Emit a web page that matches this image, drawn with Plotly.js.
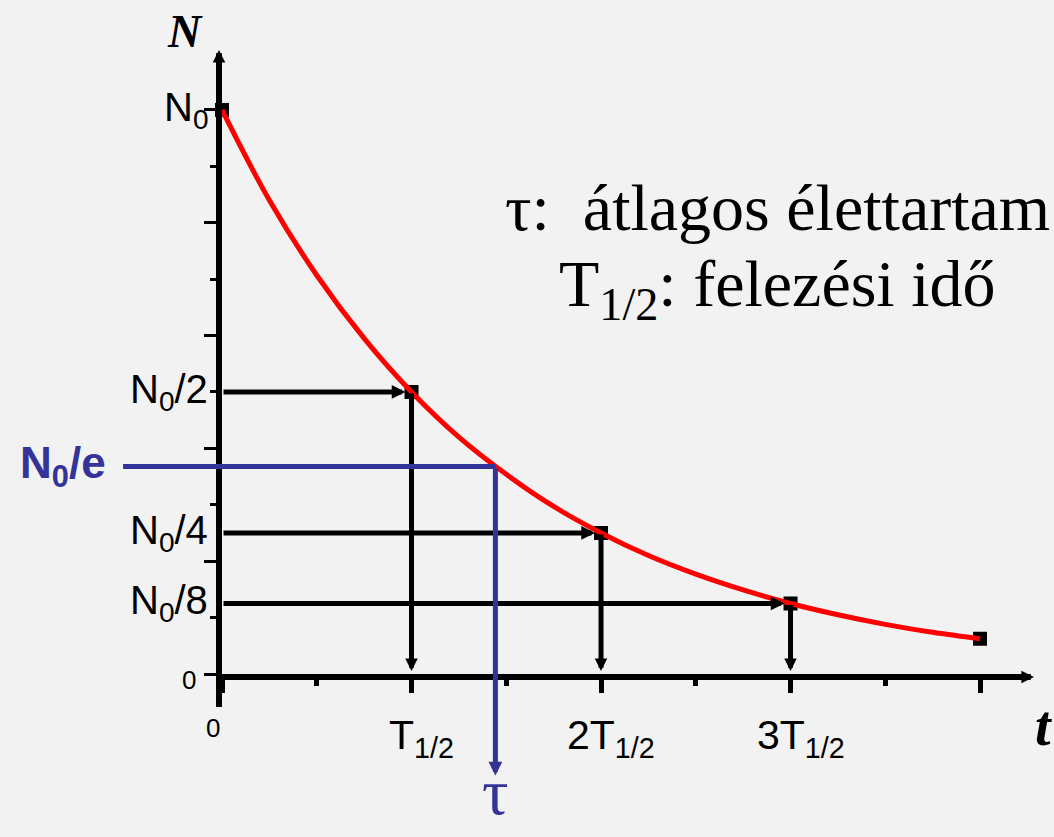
<!DOCTYPE html>
<html>
<head>
<meta charset="utf-8">
<script src="https://cdn.plot.ly/plotly-3.0.1.min.js"></script>
<style>
  html, body { margin: 0; padding: 0; background: #f2f2f2; }
  #chart { width: 1054px; height: 837px; }
</style>
</head>
<body>
<div id="chart"></div>
<script>
// Radioactive decay: time in units of the half-life T1/2, amount in units of N0
const decayT = [0, 0.25, 0.5, 0.75, 1, 1.25, 1.5, 1.75, 2, 2.25, 2.5, 2.75, 3, 3.25, 3.5, 3.75, 4];
const decayN = [1.0, 0.84, 0.707, 0.595, 0.5, 0.42, 0.354, 0.297, 0.25, 0.21, 0.177, 0.149, 0.125, 0.105, 0.088, 0.074, 0.0625];

// Points reached after whole half-lives
const halfLifeT = [0, 1, 2, 3, 4];
const halfLifeN = [1, 0.5, 0.25, 0.125, 0.0625];

// Guide arrows drawn from the N axis to the curve and down to the t axis
const guideT = [1, 2, 3];
const guideN = [0.5, 0.25, 0.125];

// Mean lifetime tau (in T1/2 units) and the amount left then, N0/e
const meanLifeT = 1.4427;
const meanLifeN = 0.3679;

// Axis labels
const yLabelVals = [1, 0.5, 0.25, 0.125];
const yLabelText = ['N<sub>0</sub>', 'N<sub>0</sub>/2', 'N<sub>0</sub>/4', 'N<sub>0</sub>/8'];
const xLabelVals = [1, 2, 3];
const xLabelText = ['T<sub>1/2</sub>', '2T<sub>1/2</sub>', '3T<sub>1/2</sub>'];

const BLACK = '#000000';
const RED = '#ff0000';
const BLUE = '#333399';
const SANS = 'Liberation Sans, Arial, sans-serif';
const SERIF = 'Liberation Serif, Times New Roman, serif';

const traces = [
  {
    x: halfLifeT, y: halfLifeN, type: 'scatter', mode: 'markers',
    marker: { symbol: 'square', size: 14, color: BLACK },
    cliponaxis: false, hoverinfo: 'skip'
  },
  {
    x: decayT, y: decayN, type: 'scatter', mode: 'lines',
    line: { color: RED, width: 5, shape: 'spline', smoothing: 1 },
    hoverinfo: 'skip'
  }
];

const annotations = [];

// horizontal and vertical guide arrows
guideT.forEach((t, i) => {
  annotations.push({
    x: t, y: guideN[i], xref: 'x', yref: 'y',
    ax: 0, ay: guideN[i], axref: 'x', ayref: 'y',
    text: '', showarrow: true, arrowhead: 2, arrowsize: 0.55, arrowwidth: 5,
    arrowcolor: BLACK, standoff: 6
  });
  annotations.push({
    x: t, y: 0, xref: 'x', yref: 'y',
    ax: t, ay: guideN[i], axref: 'x', ayref: 'y',
    text: '', showarrow: true, arrowhead: 2, arrowsize: 0.5, arrowwidth: 5,
    arrowcolor: BLACK, standoff: 3
  });
});

// N0/e level reaching the curve, then dropping to tau
annotations.push({
  x: meanLifeT, y: meanLifeN, xref: 'x', yref: 'y',
  ax: -0.53, ay: meanLifeN, axref: 'x', ayref: 'y',
  text: '', showarrow: true, arrowhead: 0, arrowwidth: 5, arrowcolor: BLUE
});
annotations.push({
  x: meanLifeT, y: -0.18, xref: 'x', yref: 'y',
  ax: meanLifeT, ay: meanLifeN, axref: 'x', ayref: 'y',
  text: '', showarrow: true, arrowhead: 2, arrowsize: 0.55, arrowwidth: 5, arrowcolor: BLUE
});

// axis arrowheads
annotations.push({
  x: 0, y: 1, xref: 'paper', yref: 'paper', ax: 0, ay: 24,
  xshift: -3, yshift: 12,
  text: '', showarrow: true, arrowhead: 2, arrowsize: 0.42, arrowwidth: 6, arrowcolor: BLACK
});
annotations.push({
  x: 1, y: 0, xref: 'paper', yref: 'paper', ax: -24, ay: 0,
  xshift: 10, yshift: -3,
  text: '', showarrow: true, arrowhead: 2, arrowsize: 0.42, arrowwidth: 6, arrowcolor: BLACK
});

// N-axis labels
yLabelVals.forEach((v, i) => {
  annotations.push({
    x: 0, y: v, xref: 'paper', yref: 'y', xanchor: 'right', yanchor: 'middle',
    xshift: -12, text: yLabelText[i], showarrow: false,
    font: { family: SANS, size: 40, color: BLACK }
  });
});
annotations.push({
  x: 0, y: 0, xref: 'paper', yref: 'y', xanchor: 'right', yanchor: 'middle',
  xshift: -24, yshift: -6, text: '0', showarrow: false,
  font: { family: SANS, size: 26, color: BLACK }
});
annotations.push({
  x: 0, y: meanLifeN, xref: 'paper', yref: 'y', xanchor: 'right', yanchor: 'middle',
  xshift: -114, text: '<b>N<sub>0</sub>/e</b>', showarrow: false,
  font: { family: SANS, size: 44, color: BLUE }
});

// t-axis labels
annotations.push({
  x: 0, y: 0, xref: 'x', yref: 'paper', xanchor: 'center', yanchor: 'middle',
  xshift: -9, yshift: -54, text: '0', showarrow: false,
  font: { family: SANS, size: 26, color: BLACK }
});
xLabelVals.forEach((v, i) => {
  annotations.push({
    x: v, y: 0, xref: 'x', yref: 'paper', xanchor: 'center', yanchor: 'middle',
    xshift: 10, yshift: -64, text: xLabelText[i], showarrow: false,
    font: { family: SANS, size: 41, color: BLACK }
  });
});
annotations.push({
  x: meanLifeT, y: 0, xref: 'x', yref: 'paper', xanchor: 'center', yanchor: 'middle',
  yshift: -117, text: 'τ', showarrow: false,
  font: { family: SERIF, size: 66, color: BLUE }
});

// axis names
annotations.push({
  x: 0, y: 1, xref: 'paper', yref: 'paper', xanchor: 'center', yanchor: 'middle',
  xshift: -37, yshift: 31, text: '<b><i>N</i></b>', showarrow: false,
  font: { family: SERIF, size: 46, color: BLACK }
});
annotations.push({
  x: 1, y: 0, xref: 'paper', yref: 'paper', xanchor: 'center', yanchor: 'middle',
  xshift: 19, yshift: -52, text: '<b><i>t</i></b>', showarrow: false,
  font: { family: SERIF, size: 56, color: BLACK }
});

// legend text for the two time constants
annotations.push({
  x: 0.693, y: 0.762, xref: 'paper', yref: 'paper', xanchor: 'center', yanchor: 'middle',
  text: 'τ:&nbsp; átlagos élettartam', showarrow: false,
  font: { family: SERIF, size: 66, color: BLACK }
});
annotations.push({
  x: 0.693, y: 0.63, xref: 'paper', yref: 'paper', xanchor: 'center', yanchor: 'middle',
  text: 'T<sub>1/2</sub>: felezési idő', showarrow: false,
  font: { family: SERIF, size: 66, color: BLACK }
});

const layout = {
  width: 1054, height: 837,
  margin: { l: 222, r: 30, t: 62, b: 163 },
  paper_bgcolor: '#f2f2f2', plot_bgcolor: '#f2f2f2',
  showlegend: false,
  font: { family: SANS, color: BLACK },
  xaxis: {
    range: [0, 4.232], showgrid: false, zeroline: false, showticklabels: false,
    showline: true, linewidth: 6, linecolor: BLACK,
    ticks: 'outside', tick0: 0, dtick: 1, ticklen: 13, tickwidth: 5, tickcolor: BLACK,
    minor: { ticks: 'outside', tick0: 0, dtick: 0.5, ticklen: 6, tickwidth: 5, tickcolor: BLACK },
    fixedrange: true
  },
  yaxis: {
    range: [0, 1.085], showgrid: false, zeroline: false, showticklabels: false,
    showline: true, linewidth: 6, linecolor: BLACK,
    ticks: 'outside', tick0: 0, dtick: 0.2, ticklen: 12, tickwidth: 3, tickcolor: BLACK,
    minor: { ticks: 'outside', tick0: 0, dtick: 0.1, ticklen: 6, tickwidth: 3, tickcolor: BLACK },
    fixedrange: true
  },
  shapes: [
    // N axis continues a little below the t axis
    {
      type: 'line', xref: 'paper', yref: 'paper',
      xsizemode: 'pixel', xanchor: 0, x0: -3, x1: -3,
      ysizemode: 'pixel', yanchor: 0, y0: 0, y1: -33,
      line: { color: BLACK, width: 6 }
    }
  ],
  annotations: annotations
};

Plotly.newPlot('chart', traces, layout, { staticPlot: true, displayModeBar: false });
</script>
</body>
</html>
